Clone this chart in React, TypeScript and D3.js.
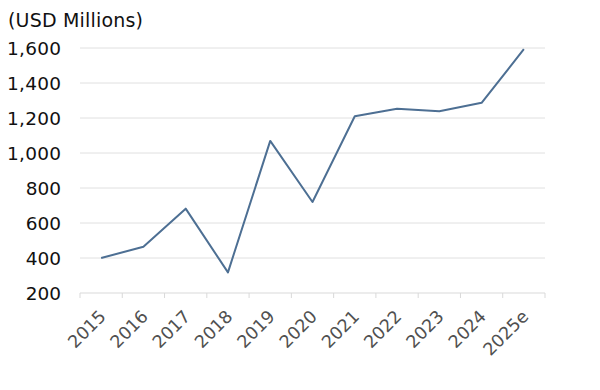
import * as d3 from 'd3';
import React, { useEffect, useRef } from 'react';

const years = ['2015', '2016', '2017', '2018', '2019', '2020', '2021', '2022', '2023', '2024', '2025e'];
const revenue = [400, 464, 682, 318, 1069, 720, 1210, 1253, 1238, 1287, 1593];
const yTicks = [200, 400, 600, 800, 1000, 1200, 1400, 1600];

const width = 600;
const height = 390;
const margin = {top: 48, right: 55, bottom: 97, left: 80};
const font = 'Verdana, DejaVu Sans, sans-serif';

const App = () => {
  const ref = useRef<SVGSVGElement>(null);

  useEffect(() => {
    const svg = d3.select(ref.current);
    svg.selectAll('*').remove();

    const x = d3.scaleBand().domain(years).range([margin.left, width - margin.right]);
    const y = d3.scaleLinear().domain([200, 1600]).range([height - margin.bottom, margin.top]);

    // gridlines
    svg.append('g')
      .selectAll('line')
      .data(yTicks.slice(1))
      .enter()
      .append('line')
      .attr('x1', margin.left)
      .attr('x2', width - margin.right)
      .attr('y1', d => y(d))
      .attr('y2', d => y(d))
      .attr('stroke', '#e0e0e0')
      .attr('stroke-width', 1);

    // y labels
    svg.append('g')
      .selectAll('text')
      .data(yTicks)
      .enter()
      .append('text')
      .attr('x', 61)
      .attr('y', d => y(d))
      .attr('dy', '0.36em')
      .attr('text-anchor', 'end')
      .attr('font-family', font)
      .attr('font-size', 18.5)
      .attr('textLength', d => d >= 1000 ? 54 : null)
      .attr('fill', '#111')
      .text(d => d3.format(',')(d));

    // x axis
    const base = y(200);
    svg.append('line')
      .attr('x1', margin.left)
      .attr('x2', width - margin.right)
      .attr('y1', base)
      .attr('y2', base)
      .attr('stroke', '#d9d9d9');
    const bounds = years.map(yr => x(yr) as number).concat([width - margin.right]);
    svg.append('g')
      .selectAll('line')
      .data(bounds)
      .enter()
      .append('line')
      .attr('x1', d => d)
      .attr('x2', d => d)
      .attr('y1', base)
      .attr('y2', base + 5)
      .attr('stroke', '#d9d9d9');

    svg.append('g')
      .selectAll('text')
      .data(years)
      .enter()
      .append('text')
      .attr('transform', d => `translate(${(x(d) as number) + x.bandwidth() / 2 - 3},${base + 16}) rotate(-45)`)
      .attr('text-anchor', 'end')
      .attr('dy', '0.7em')
      .attr('font-family', font)
      .attr('font-size', 17.5)
      .attr('fill', '#505050')
      .text(d => d);

    // line
    const line = d3.line<number>()
      .x((d, i) => (x(years[i]) as number) + x.bandwidth() / 2)
      .y(d => y(d));
    svg.append('path')
      .datum(revenue)
      .attr('d', line)
      .attr('fill', 'none')
      .attr('stroke', '#4d6f93')
      .attr('stroke-width', 2)
      .attr('stroke-linejoin', 'round');

    svg.append('text')
      .attr('x', 8)
      .attr('y', 27)
      .attr('font-family', font)
      .attr('font-size', 19)
      .attr('textLength', 135)
      .attr('fill', '#111')
      .text('(USD Millions)');
  }, []);

  return (
    <svg ref={ref} width={width} height={height} style={{position: 'absolute', left: 0, top: 0}} />
  );
};

export default App;
